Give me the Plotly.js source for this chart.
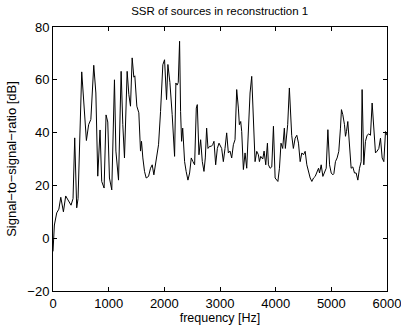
<!DOCTYPE html>
<html>
<head>
<meta charset="utf-8">
<script src="https://cdn.plot.ly/plotly-3.0.1.min.js"></script>
<style>html,body{margin:0;padding:0;background:#fff;}#chart{width:401px;height:326px;}</style>
</head>
<body>
<div id="chart"></div>
<script>
const frequency = [0,25,67,105,140,187,228,275,324,360,390,426,450,516,560,600,640,680,732,770,804,845,875,918,953,984,1014,1056,1104,1130,1177,1224,1254,1284,1332,1362,1392,1422,1452,1470,1506,1542,1572,1590,1614,1644,1674,1716,1752,1782,1812,1850,1896,1932,1973,2004,2022,2040,2064,2100,2141,2184,2207,2230,2250,2274,2292,2310,2330,2364,2392,2424,2454,2484,2514,2544,2574,2592,2622,2652,2682,2712,2736,2760,2784,2814,2844,2868,2892,2922,2952,2982,3030,3060,3090,3120,3150,3180,3210,3240,3270,3300,3330,3348,3372,3390,3420,3450,3480,3510,3540,3570,3600,3630,3660,3690,3708,3732,3768,3792,3822,3852,3870,3900,3930,3960,3990,4020,4040,4068,4096,4126,4156,4174,4198,4216,4246,4264,4288,4318,4350,4380,4410,4440,4470,4500,4530,4560,4590,4620,4650,4680,4710,4740,4770,4788,4818,4848,4878,4908,4938,4968,4998,5028,5046,5074,5104,5134,5164,5182,5206,5236,5254,5272,5296,5326,5356,5386,5416,5446,5476,5506,5536,5553,5583,5613,5643,5673,5703,5733,5763,5793,5823,5853,5883,5913,5943,5973,6000];
const ssr = [-5,5,9.6,11,15.5,10,16,14,12.5,15,38,11.5,15,63,48,37,43,45,65.5,55,23.5,41,21.5,19,46.7,44,22.8,18.3,60,33,22,63.2,43,30.4,63.2,54.5,50,68.3,61,61.5,50,47.5,33,36.7,30.4,25.3,22.8,23.4,26.5,27.8,24,29,35.4,48,65.7,67.6,58,52.5,65.8,59,46.8,31,58.8,58,59,74.6,48,36.7,41.7,29,25.3,22,24.7,30.4,29,27.8,49.3,50.6,31.6,37.3,29,25.3,30.4,41.7,34,34.8,34.8,35.4,36.7,27.8,34,36,34,29,34,39.9,32.3,33,30.4,35.4,37.3,56.3,49.3,43,44.2,40.4,26,32.3,26.5,39.9,55,61.3,46.8,29,32.9,31.6,29,31,30,33,27.8,36,27.8,26.5,27,42.4,22.8,22,21.5,26.5,36,34,41.7,34,39,43,56.9,49.3,39,34,37.9,39,36,29,32.3,31.6,32.9,27.8,25.3,22.8,21.5,22.8,23.4,25.3,26.5,24.7,27.8,23.4,24.7,26.5,41.1,27.8,24.7,24,24.5,29,30.4,32.9,41.7,48.7,46.8,43,38.6,40.4,44.2,34,26.5,27,24.7,24.7,22,26.5,29,56.3,27.8,36.7,39,39.5,39,51.2,41.7,32.3,33,34,37.9,30.4,29,40.4,39];
const xTicks = [0,1000,2000,3000,4000,5000,6000];
const yTicks = [-20,0,20,40,60,80];
const chartTitle = 'SSR of sources in reconstruction 1';
const xTitle = 'frequency [Hz]';
const yTitle = 'Signal\u2212to\u2212signal\u2212ratio [dB]';

const font = 'Liberation Sans, Arial, Helvetica, sans-serif';
Plotly.newPlot('chart', [{
  x: frequency, y: ssr, type: 'scatter', mode: 'lines',
  line: {color: '#000', width: 1}, hoverinfo: 'skip'
}], {
  width: 401, height: 326,
  margin: {l: 53, r: 14, t: 27, b: 35},
  paper_bgcolor: '#fff', plot_bgcolor: '#fff',
  showlegend: false,
  font: {family: font, color: '#000', size: 13},
  title: {text: chartTitle, font: {size: 11.5, family: font, color: '#000'}, x: 0.548, xanchor: 'center', y: 0.965, yanchor: 'middle'},
  xaxis: {
    range: [0, 6000], tickvals: xTicks, ticktext: xTicks.map(String),
    ticks: 'inside', ticklen: 4, tickcolor: '#000', showline: true, linecolor: '#000', linewidth: 1,
    mirror: 'ticks', showgrid: false, zeroline: false, ticklabeloverflow: 'allow',
    tickfont: {size: 13},
    title: {text: xTitle, font: {size: 12.5}, standoff: 1}
  },
  yaxis: {
    range: [-20, 80], tickvals: yTicks, ticktext: yTicks.map(v => v < 0 ? '\u2212' + Math.abs(v) : String(v)),
    ticks: 'inside', ticklen: 4, tickcolor: '#000', showline: true, linecolor: '#000', linewidth: 1,
    mirror: 'ticks', showgrid: false, zeroline: false, ticklabeloverflow: 'allow',
    tickfont: {size: 13},
    title: {text: yTitle, font: {size: 13}, standoff: 7}
  }
}, {staticPlot: true, displayModeBar: false});
</script>
</body>
</html>
